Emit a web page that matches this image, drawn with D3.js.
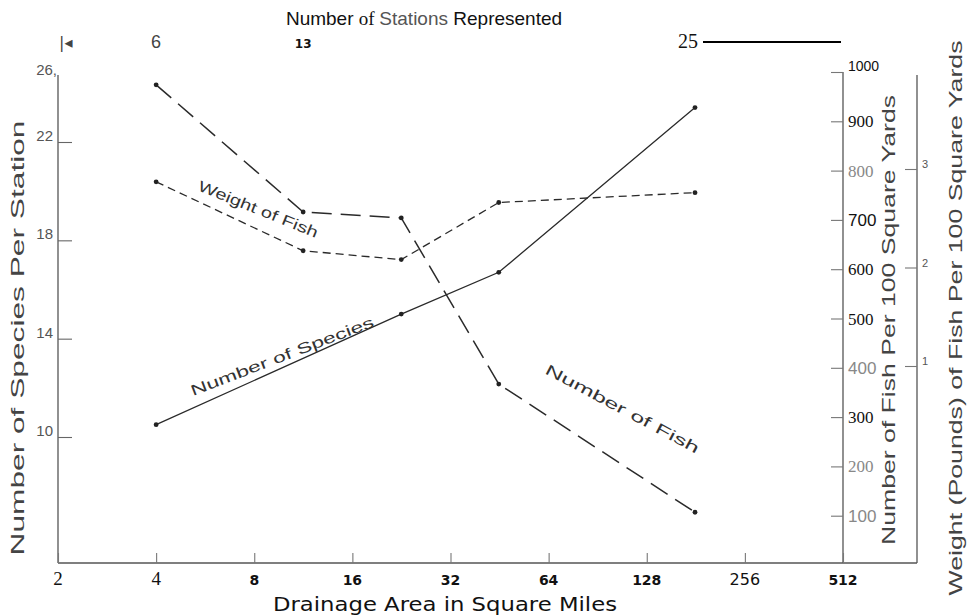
<!DOCTYPE html>
<html>
<head>
<meta charset="utf-8">
<script src="https://cdn.jsdelivr.net/npm/d3@7"></script>
<style>
  html, body { margin: 0; padding: 0; background: #fff; }
  svg { display: block; }
</style>
</head>
<body>
<svg id="chart" width="973" height="615"></svg>
<script>
// ---- data ----
const drainageArea = [4, 11.3, 22.6, 45, 180];           // square miles (x, log2)
const speciesPerStation = [10.5, 15.0, 16.7, 23.4];       // left axis
const speciesArea = [4, 22.6, 45, 180];
const fishPer100SqYd = [974, 716, 704, 367, 107];         // right axis 1
const weightPer100SqYd = [2.87, 2.17, 2.08, 2.66, 2.76];  // right axis 2 (pounds)
const xTicks = [2, 4, 8, 16, 32, 64, 128, 256, 512];
const leftTicks = [10, 14, 18, 22];
const fishTicks = [100, 200, 300, 400, 500, 600, 700, 800, 900, 1000];
const weightTicks = [1, 2, 3];
const stationLabels = ["6", "13", "25"];
const stationArea = [4, 11.3, 180];

const svg = d3.select("#chart");
const sans = "'Liberation Sans', Arial, sans-serif";
const serif = "'Liberation Serif', 'Times New Roman', serif";
const verd = "'DejaVu Sans', Verdana, sans-serif";

// ---- scales ----
const x = d3.scaleLog().base(2).domain([2, 512]).range([58, 843]);
const yLeft = d3.scaleLinear().domain([10, 22]).range([437, 142]);
const yFish = d3.scaleLinear().domain([0, 1000]).range([565, 72]);
const yWeight = d3.scaleLinear().domain([1, 3]).range([366, 169]);
const baseY = 563;

const ink = "#2a2a2a";

// ---- frame ----
const frame = [[58, baseY, 917, baseY], [58, baseY, 58, 75],
  [x(512), baseY, x(512), yFish(1000)], [917, baseY, 917, 75]];
svg.selectAll(".frame").data(frame).enter().append("line").attr("class", "frame")
  .attr("x1", d => d[0]).attr("y1", d => d[1]).attr("x2", d => d[2]).attr("y2", d => d[3])
  .attr("stroke", "#555").attr("stroke-width", 1.3);

// ---- bottom axis ----
const xAxis = svg.append("g").attr("transform", `translate(0,${baseY})`)
  .call(d3.axisTop(x).tickValues(xTicks).tickSize(10).tickFormat(""));
xAxis.select(".domain").remove();
xAxis.selectAll(".tick line").attr("stroke", "#777").attr("stroke-width", 1.1);
svg.selectAll(".xlab").data(xTicks).enter().append("text")
  .attr("class", "xlab")
  .attr("x", d => x(d))
  .attr("y", baseY + 22)
  .attr("text-anchor", "middle")
  .attr("fill", "#111")
  .attr("font-family", (d, i) => (i < 2 ? serif : verd))
  .attr("font-weight", (d, i) => (i < 2 || d === 256 ? "normal" : "bold"))
  .attr("font-size", (d, i) => (i < 2 ? 19 : (d === 256 ? 16 : 14)))
  .text(d => d);

svg.append("text").attr("x", 445).attr("y", 611).attr("text-anchor", "middle")
  .attr("font-family", verd).attr("font-size", 20).attr("fill", "#111")
  .attr("textLength", 344).attr("lengthAdjust", "spacingAndGlyphs")
  .text("Drainage Area in Square Miles");

// ---- left axis ----
const lAxis = svg.append("g").attr("transform", "translate(58,0)")
  .call(d3.axisRight(yLeft).tickValues(leftTicks).tickSize(14).tickFormat(""));
lAxis.select(".domain").remove();
lAxis.selectAll(".tick line").attr("stroke", "#666").attr("stroke-width", 1.1);
svg.selectAll(".llab").data(leftTicks).enter().append("text")
  .attr("class", "llab")
  .attr("x", 53).attr("y", d => yLeft(d) - 1)
  .attr("text-anchor", "end")
  .attr("font-family", sans).attr("font-size", 15).attr("fill", "#555")
  .text(d => d);
svg.append("text").attr("x", 57).attr("y", 75).attr("text-anchor", "end")
  .attr("font-family", sans).attr("font-size", 15).attr("fill", "#555").text("26,");

svg.append("text")
  .attr("transform", "translate(24,338) rotate(-90)")
  .attr("text-anchor", "middle")
  .attr("font-family", sans).attr("font-size", 19).attr("fill", "#444")
  .attr("textLength", 435).attr("lengthAdjust", "spacingAndGlyphs")
  .text("Number of Species Per Station");

// ---- right axis 1: number of fish ----
const fAxis = svg.append("g").attr("transform", `translate(${x(512)},0)`)
  .call(d3.axisLeft(yFish).tickValues(fishTicks).tickSize(12).tickFormat(""));
fAxis.select(".domain").remove();
fAxis.selectAll(".tick line").attr("stroke", "#777").attr("stroke-width", 1.1);
svg.selectAll(".flab").data(fishTicks).enter().append("text")
  .attr("class", "flab")
  .attr("x", x(512) + 5)
  .attr("y", d => yFish(d) + (d === 1000 ? -1 : 6))
  .attr("font-family", (d, i) => (i % 3 === 0 ? sans : serif))
  .attr("font-size", d => (d === 1000 ? 14 : 17))
  .attr("fill", d => ([100, 200, 400, 800].includes(d) ? "#888" : "#111"))
  .text(d => d);

svg.append("text")
  .attr("transform", "translate(895,320) rotate(-90)")
  .attr("text-anchor", "middle")
  .attr("font-family", sans).attr("font-size", 18).attr("fill", "#444")
  .attr("textLength", 450).attr("lengthAdjust", "spacingAndGlyphs")
  .text("Number of Fish Per 100 Square Yards");

// ---- right axis 2: weight ----
const wAxis = svg.append("g").attr("transform", "translate(917,0)")
  .call(d3.axisLeft(yWeight).tickValues(weightTicks).tickSize(12).tickFormat(""));
wAxis.select(".domain").remove();
wAxis.selectAll(".tick line").attr("stroke", "#777").attr("stroke-width", 1.1);
svg.selectAll(".wlab").data(weightTicks).enter().append("text")
  .attr("class", "wlab")
  .attr("x", 922).attr("y", d => yWeight(d) - 1)
  .attr("font-family", sans).attr("font-size", 11).attr("fill", "#555")
  .text(d => d);

svg.append("text")
  .attr("transform", "translate(962,318) rotate(-90)")
  .attr("text-anchor", "middle")
  .attr("font-family", sans).attr("font-size", 18).attr("fill", "#444")
  .attr("textLength", 555).attr("lengthAdjust", "spacingAndGlyphs")
  .text("Weight (Pounds) of Fish Per 100 Square Yards");

// ---- top: stations ----
svg.append("text").attr("x", 424).attr("y", 25).attr("text-anchor", "middle")
  .attr("font-size", 19).attr("fill", "#111")
  .call(t => {
    t.append("tspan").attr("font-family", sans).text("Number ");
    t.append("tspan").attr("font-family", serif).text("of ");
    t.append("tspan").attr("font-family", sans).attr("fill", "#555").text(" Stations ");
    t.append("tspan").attr("font-family", sans).text("Represented");
  });
svg.append("text").attr("x", 59).attr("y", 48).attr("font-family", verd)
  .attr("font-size", 16).attr("fill", "#444").text("|\u25C2");
svg.selectAll(".slab").data(stationLabels).enter().append("text")
  .attr("class", "slab")
  .attr("x", (d, i) => x(stationArea[i]) + (i === 2 ? -7 : 0))
  .attr("y", 48)
  .attr("text-anchor", "middle")
  .attr("font-family", (d, i) => (i === 0 ? sans : (i === 1 ? verd : serif)))
  .attr("font-weight", (d, i) => (i === 1 ? "bold" : "normal"))
  .attr("font-size", (d, i) => (i === 0 ? 18 : (i === 1 ? 12 : 20)))
  .attr("fill", (d, i) => (i === 0 ? "#444" : "#111"))
  .text(d => d);
svg.append("line").attr("x1", 703).attr("x2", x(512) - 2).attr("y1", 42).attr("y2", 42)
  .attr("stroke", "#000").attr("stroke-width", 2.2);

// ---- series ----
const lineSpecies = d3.line().x(d => x(d[0])).y(d => yLeft(d[1]));
const lineFish = d3.line().x(d => x(d[0])).y(d => yFish(d[1]));
const lineWeight = d3.line().x(d => x(d[0])).y(d => yWeight(d[1]));

const speciesData = speciesArea.map((a, i) => [a, speciesPerStation[i]]);
const fishData = drainageArea.map((a, i) => [a, fishPer100SqYd[i]]);
const weightData = drainageArea.map((a, i) => [a, weightPer100SqYd[i]]);

svg.append("path").datum(speciesData).attr("d", lineSpecies)
  .attr("fill", "none").attr("stroke", ink).attr("stroke-width", 1.3);
svg.append("path").datum(fishData).attr("d", lineFish)
  .attr("fill", "none").attr("stroke", ink).attr("stroke-width", 1.5)
  .attr("stroke-dasharray", "20,9");
svg.append("path").datum(weightData).attr("d", lineWeight)
  .attr("fill", "none").attr("stroke", ink).attr("stroke-width", 1.3)
  .attr("stroke-dasharray", "8,5");

const dots = (data, yScale) => svg.append("g").selectAll("circle").data(data).enter()
  .append("circle").attr("cx", d => x(d[0])).attr("cy", d => yScale(d[1]))
  .attr("r", 2.4).attr("fill", "#222");
dots(speciesData, yLeft);
dots(fishData, yFish);
dots(weightData, yWeight);

// ---- in-plot labels ----
const lbl = (txt, px, py, ang, len) => svg.append("text")
  .attr("transform", `translate(${px},${py}) rotate(${ang})`)
  .attr("font-family", sans).attr("font-size", 15).attr("fill", "#333")
  .attr("textLength", len).attr("lengthAdjust", "spacingAndGlyphs")
  .text(txt);
lbl("Weight of Fish", 197, 190, 22, 128);
lbl("Number of Species", 193, 396, -21, 195);
lbl("Number of Fish", 544, 373, 28, 172);
</script>
</body>
</html>
